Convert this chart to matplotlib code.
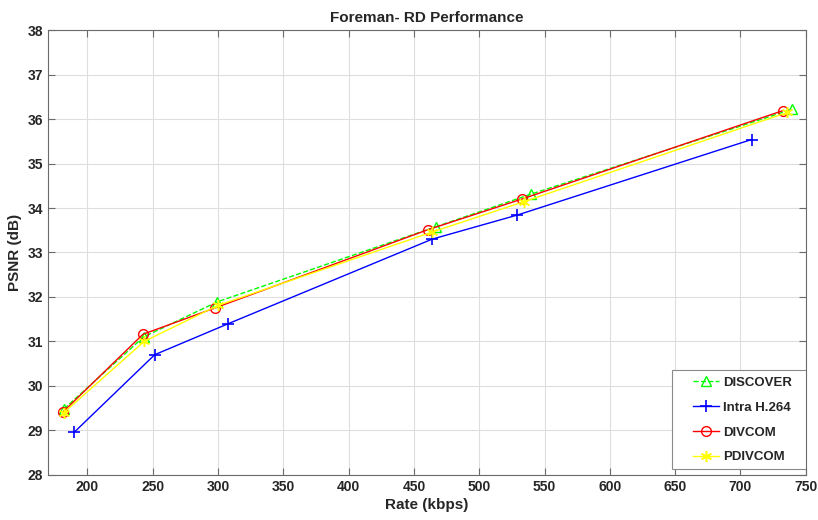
import matplotlib

matplotlib.use("Agg")
import matplotlib.pyplot as plt
from matplotlib.patches import Rectangle

plt.rcParams["font.family"] = ["Liberation Sans Narrow", "Liberation Sans", "DejaVu Sans"]
plt.rcParams["font.weight"] = "bold"

# --- RD points (rate kbps, PSNR dB) ---
discover_rate = [182, 243, 299.5, 467, 539.5, 739.5]
discover_psnr = [29.48, 31.1, 31.89, 33.58, 34.31, 36.22]

intra_rate = [190, 251.5, 308, 464, 529, 708.5]
intra_psnr = [28.96, 30.70, 31.40, 33.30, 33.84, 35.54]

divcom_rate = [181.5, 242.5, 297.5, 460.5, 532.5, 732.5]
divcom_psnr = [29.42, 31.16, 31.75, 33.51, 34.20, 36.19]

pdivcom_rate = [182, 243.5, 300, 464, 534, 736]
pdivcom_psnr = [29.40, 31.00, 31.81, 33.46, 34.14, 36.15]

x_ticks = list(range(200, 751, 50))
y_ticks = list(range(28, 39))

TEXT = "#262626"
FRAME = "#6a6a6a"

fig = plt.figure(figsize=(8.18, 5.2), dpi=100)
ax = fig.add_axes([0.059, 0.087, 0.926, 0.855])

ax.plot(discover_rate, discover_psnr, color=(0, 1, 0), ls="--", lw=1.0,
        marker="^", ms=7, mfc="none", mec=(0, 1, 0), mew=1.0, label="DISCOVER")
ax.plot(intra_rate, intra_psnr, color=(0, 0, 1), lw=1.0,
        marker="+", ms=8, mew=1.2, label="Intra H.264")
ax.plot(divcom_rate, divcom_psnr, color=(1, 0, 0), lw=1.0,
        marker="o", ms=7, mfc="none", mec=(1, 0, 0), mew=1.0, label="DIVCOM")
# MATLAB '*' is an asterisk, not a filled star
ax.plot(pdivcom_rate, pdivcom_psnr, color=(1, 1, 0), lw=1.0,
        marker=(6, 2, 0), ms=8, mew=1.1, mec=(1, 1, 0), label="PDIVCOM")

ax.set_xlim(170, 750)
ax.set_ylim(28, 38)
ax.set_xticks(x_ticks)
ax.set_yticks(y_ticks)
ax.grid(True, color="#dedede", lw=0.8)
ax.set_axisbelow(True)

ax.tick_params(direction="in", top=True, right=True, length=5, width=0.8,
               color=FRAME, labelcolor=TEXT, labelsize=10, pad=4)
for lab in ax.get_xticklabels() + ax.get_yticklabels():
    lab.set_fontweight("bold")
for sp in ax.spines.values():
    sp.set_color(FRAME)
    sp.set_linewidth(0.8)

ax.set_xlabel("Rate (kbps)", fontsize=11, fontweight="bold", color=TEXT, labelpad=3)
ax.set_ylabel("PSNR (dB)", fontsize=11, fontweight="bold", color=TEXT)
ax.yaxis.set_label_coords(-0.035, 0.5)
ax.set_title("Foreman- RD Performance", fontsize=11, fontweight="bold", color=TEXT, pad=6)

# MATLAB-style legend: wide plain box, entries indented from its left edge
ax.add_patch(Rectangle((0.823, 0.0135), 0.177, 0.2225, transform=ax.transAxes,
                       facecolor="white", edgecolor="#8a8a8a", lw=0.8, zorder=4))
leg = ax.legend(loc="center left", bbox_to_anchor=(0.851, 0.123), fontsize=9.5,
                frameon=False, borderpad=0.0, labelspacing=0.95, handlelength=2.0,
                handletextpad=0.3, borderaxespad=0.0)
leg.set_zorder(5)
for t in leg.get_texts():
    t.set_fontweight("bold")
    t.set_color(TEXT)

fig.savefig("out.png", dpi=100)
